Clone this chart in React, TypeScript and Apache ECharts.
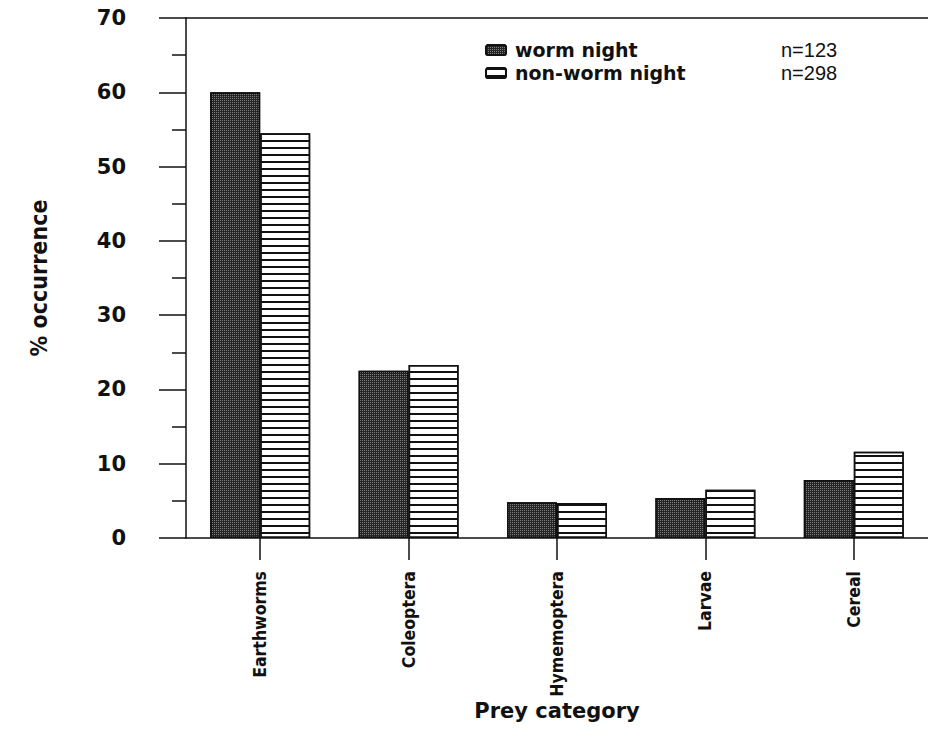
import React, { useRef, useEffect } from 'react';
import * as echarts from 'echarts';

const categories = ['Earthworms', 'Coleoptera', 'Hymemoptera', 'Larvae', 'Cereal'];
const seriesNames = ['worm night', 'non-worm night'];
const sampleSizes = ['n=123', 'n=298'];
const wormNight = [60, 22.5, 4.8, 5.4, 7.8];
const nonWormNight = [54.5, 23.3, 4.7, 6.5, 11.6];
const yTicks = { min: 0, max: 70, interval: 10 };

const wideFont = '"DejaVu Sans", Verdana, sans-serif';
const narrowFont = '"Liberation Sans Narrow", "DejaVu Sans Condensed", "Arial Narrow", sans-serif';

export default function App() {
  const ref = useRef<HTMLDivElement>(null);
  useEffect(() => {
    const chart = echarts.init(ref.current!, null, { renderer: 'svg' });
    const nMap: Record<string, string> = {};
    seriesNames.forEach((s, i) => (nMap[s] = sampleSizes[i]));
    chart.setOption({
      animation: false,
      backgroundColor: '#ffffff',
      grid: { left: 186, right: 0, top: 18, bottom: 207, containLabel: false, outerBoundsMode: 'none' },
      legend: {
        orient: 'vertical',
        left: 480,
        top: 35,
        itemWidth: 20,
        itemHeight: 10,
        itemGap: 3,
        data: seriesNames,
        formatter: (name: string) => `{a|${name}}{b|${nMap[name]}}`,
        textStyle: {
          lineHeight: 19,
          rich: {
            a: { fontFamily: wideFont, fontWeight: 'bold', fontSize: 19, lineHeight: 19, color: '#111', width: 266, padding: [0, 0, 0, 4] },
            b: { fontFamily: '"Liberation Sans", Arial, sans-serif', fontSize: 20, lineHeight: 19, color: '#111' },
          },
        },
      },
      xAxis: [
        {
          type: 'category',
          data: categories,
          position: 'bottom',
          axisLine: { show: true, lineStyle: { color: '#111', width: 1.5 } },
          axisTick: { show: true, alignWithLabel: true, length: 22, lineStyle: { color: '#111', width: 1.5 } },
          axisLabel: {
            rotate: 90,
            margin: 33,
            fontFamily: narrowFont,
            fontWeight: 'bold',
            fontSize: 17.5,
            color: '#111',
          },
          name: 'Prey category',
          nameLocation: 'middle',
          nameGap: 162,
          nameMoveOverlap: false,
          nameTextStyle: { fontFamily: wideFont, fontWeight: 'bold', fontSize: 21, color: '#111' },
        },
        {
          type: 'category',
          data: categories,
          position: 'top',
          axisLine: { show: true, lineStyle: { color: '#111', width: 1.5 } },
          axisTick: { show: false },
          axisLabel: { show: false },
        },
      ],
      yAxis: {
        type: 'value',
        min: yTicks.min,
        max: yTicks.max,
        interval: yTicks.interval,
        axisLine: { show: true, lineStyle: { color: '#111', width: 1.5 } },
        axisTick: { show: true, length: 27, lineStyle: { color: '#111', width: 1.5 } },
        minorTick: { show: true, splitNumber: 2, length: 14, lineStyle: { color: '#111', width: 1.5 } },
        splitLine: { show: false },
        axisLabel: { margin: 60, fontFamily: wideFont, fontWeight: 'bold', fontSize: 21, color: '#111' },
        name: '% occurrence',
        nameLocation: 'middle',
        nameRotate: 90,
        nameGap: 136,
        nameMoveOverlap: false,
        nameTextStyle: { fontFamily: narrowFont, fontWeight: 'bold', fontSize: 23, color: '#111' },
      },
      series: [
        {
          name: seriesNames[0],
          type: 'bar',
          data: wormNight,
          barWidth: 50,
          barGap: '0%',
          itemStyle: {
            color: '#242424',
            borderColor: '#111',
            borderWidth: 1.5,
            decal: {
              symbol: 'rect',
              symbolSize: 1,
              dashArrayX: [1, 1],
              dashArrayY: [1, 1],
              color: 'rgba(150,150,150,0.8)',
            },
          },
        },
        {
          name: seriesNames[1],
          type: 'bar',
          data: nonWormNight,
          barWidth: 50,
          barGap: '0%',
          itemStyle: {
            color: '#ffffff',
            borderColor: '#111',
            borderWidth: 1.5,
            decal: {
              symbol: 'rect',
              symbolSize: 1,
              dashArrayX: [1, 0],
              dashArrayY: [1.6, 4.6],
              color: '#111',
            },
          },
        },
      ],
    });
    return () => chart.dispose();
  }, []);
  return <div ref={ref} style={{ position: 'fixed', left: 0, top: 0, width: 928, height: 745 }} />;
}
